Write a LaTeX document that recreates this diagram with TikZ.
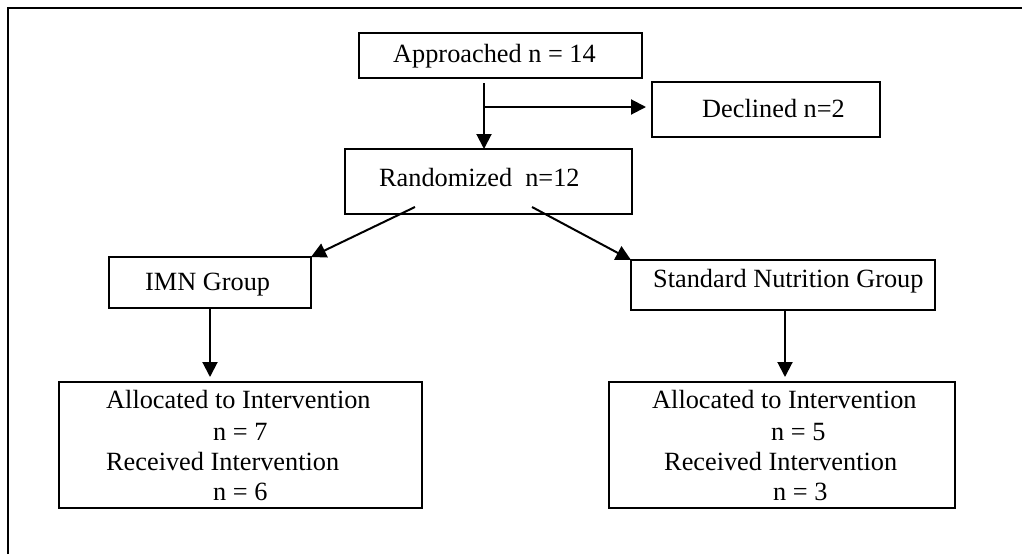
\documentclass[tikz,border=0pt]{standalone}
\usepackage{fontspec}
\setmainfont{Liberation Serif}
\usetikzlibrary{arrows.meta,calc}
\begin{document}
\begin{tikzpicture}[x=1pt,y=-1pt,
  box/.style={draw,line width=2pt,inner sep=0pt,outer sep=0pt,rectangle},
  txt/.style={anchor=base west,inner sep=0pt,font=\fontsize{26.3}{30}\selectfont},
  arr/.style={line width=2pt,-{Triangle[length=15pt,width=15pt]}},
  frame/.style={line width=2pt}]
\useasboundingbox (0,0) rectangle (1022,554);
\draw[frame] (8,554) -- (8,8) -- (1022,8);
% boxes
\node[box,minimum width=283pt,minimum height=45pt] (appr) at (500.5,55.5) {};
\node[box,minimum width=228pt,minimum height=55pt] (decl) at (766,109.5) {};
\node[box,minimum width=287pt,minimum height=65pt] (rand) at (488.5,181.5) {};
\node[box,minimum width=202pt,minimum height=51pt] (imn) at (210,282.5) {};
\node[box,minimum width=304pt,minimum height=50pt] (std) at (783,285) {};
\node[box,minimum width=363pt,minimum height=126pt] (alL) at (240.5,445) {};
\node[box,minimum width=346pt,minimum height=126pt] (alR) at (782,445) {};
% texts
\node[txt] (tappr) at (393,62) {Approached n = 14};
\node[txt] (tdecl) at (702,117) {Declined n=2};
\node[txt] (trand) at (379,186) {Randomized\ \ n=12};
\node[txt] (timn) at (145,290) {IMN Group};
\node[txt] (tstd) at (653,287) {Standard Nutrition Group};
\node[txt] (tl1) at (106,408) {Allocated to Intervention};
\node[txt] (tl2) at (213,440) {n = 7};
\node[txt] (tl3) at (106,470) {Received Intervention};
\node[txt] (tl4) at (213,500) {n = 6};
\node[txt] (tr1) at (652,408) {Allocated to Intervention};
\node[txt] (tr2) at (771,440) {n = 5};
\node[txt] (tr3) at (664,470) {Received Intervention};
\node[txt] (tr4) at (773,500) {n = 3};
% connectors
\coordinate (j) at (484,107);
\draw[arr,shorten <=5pt] (j |- appr.south) -- (j |- rand.north);
\draw[arr,shorten >=6pt] (j) -- (j -| decl.west);
\draw[arr] ($(rand.south)+(-73.5,-7)$) -- (imn.north east);
\draw[arr] ($(rand.south)+(43.5,-7)$) -- (std.north west);
\draw[arr,shorten >=5pt] (imn.south) -- (imn.south |- alL.north);
\draw[arr,shorten >=5pt] ($(std.south)+(2,0)$) -- ($(std.south |- alR.north)+(2,0)$);
\end{tikzpicture}
\end{document}
